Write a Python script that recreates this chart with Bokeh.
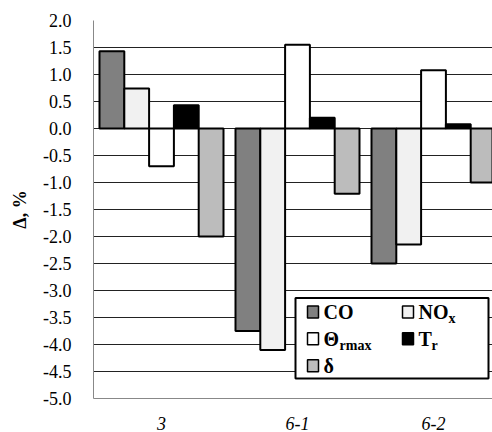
from bokeh.plotting import figure
from bokeh.models import Range1d, FixedTicker, Label
from bokeh.embed import file_html
from bokeh.resources import INLINE

# Relative change of each parameter, %, per variant
categories = ["3", "6-1", "6-2"]
co = [1.43, -3.75, -2.50]
nox = [0.74, -4.10, -2.15]
theta_rmax = [-0.70, 1.55, 1.08]
t_r = [0.43, 0.20, 0.08]
delta = [-2.00, -1.21, -1.00]

series = [co, nox, theta_rmax, t_r, delta]
colors = ["#808080", "#f1f1f1", "#ffffff", "#000000", "#bcbcbc"]

W, H = 492, 432
LEFT, TOP, BOTTOM = 93, 20, 32
FRAME_W = W - LEFT
FRAME_H = H - TOP - BOTTOM
CAT_PX = 136.0
X_MAX = FRAME_W / CAT_PX
Y_MIN, Y_MAX = -5.0, 2.0
SERIF = "Liberation Serif"

p = figure(width=W, height=H, output_backend="svg", toolbar_location=None,
           x_range=Range1d(0, X_MAX), y_range=Range1d(Y_MIN, Y_MAX),
           min_border_left=LEFT, min_border_right=0, min_border_top=TOP,
           min_border_bottom=BOTTOM)
p.outline_line_color = None
p.background_fill_color = "white"

bar_w = 24.8 / CAT_PX
centers = [i + 0.5 for i in range(len(categories))]
for k, (vals, col) in enumerate(zip(series, colors)):
    xs = [c + (k - 2) * bar_w for c in centers]
    p.vbar(x=xs, top=vals, bottom=0, width=bar_w, fill_color=col,
           line_color="black", line_width=2)

# axes
p.xgrid.grid_line_color = None
p.ygrid.grid_line_color = "#222222"
p.ygrid.grid_line_width = 1
p.yaxis.ticker = FixedTicker(ticks=[Y_MIN + 0.5 * i for i in range(15)])
p.yaxis.formatter.use_scientific = False
p.yaxis.major_label_overrides = {Y_MIN + 0.5 * i: f"{Y_MIN + 0.5 * i:.1f}" for i in range(15)}
p.xaxis.ticker = FixedTicker(ticks=centers)
p.xaxis.major_label_overrides = {c: lab for c, lab in zip(centers, categories)}
for ax in (p.xaxis, p.yaxis):
    ax.axis_line_color = "#888888"
    ax.axis_line_width = 1
    ax.major_tick_line_color = None
    ax.minor_tick_line_color = None
    ax.major_label_text_font = SERIF
    ax.major_label_text_font_size = "18px"
    ax.major_label_text_color = "black"
p.xaxis.major_label_text_font_style = "italic"
p.xaxis.major_label_standoff = 12
p.yaxis.major_label_standoff = 16
p.yaxis.axis_label = "Δ, %"
p.yaxis.axis_label_text_font = SERIF
p.yaxis.axis_label_text_font_size = "18px"
p.yaxis.axis_label_text_font_style = "bold"
p.yaxis.axis_label_text_color = "black"
p.yaxis.axis_label_standoff = 10


def dx(px):
    return (px - LEFT) / CAT_PX


def dy(py):
    return Y_MAX - (py - TOP) * (Y_MAX - Y_MIN) / FRAME_H


# legend box
p.quad(left=[dx(295)], right=[dx(488)], top=[dy(299)], bottom=[dy(380)],
       fill_color="white", line_color="black", line_width=2)

rows = [313, 340, 367]
entries = [
    (0, 0, colors[0], "CO", None),
    (1, 0, colors[1], "NO", "x"),
    (0, 1, colors[2], "Θ", "rmax"),
    (1, 1, colors[3], "T", "r"),
    (0, 2, colors[4], "δ", None),
]
main_w = {"CO": 28, "NO": 29, "Θ": 15, "T": 12, "δ": 10}
col_sw = [307, 402]
for c, r, col, txt, sub in entries:
    cy = rows[r]
    sx0 = col_sw[c]
    p.quad(left=[dx(sx0)], right=[dx(sx0 + 11)], top=[dy(cy - 6)],
           bottom=[dy(cy + 6)], fill_color=col, line_color="black", line_width=1.5)
    tx = sx0 + 16
    p.add_layout(Label(x=dx(tx), y=dy(cy), text=txt, text_font=SERIF,
                       text_font_size="20px", text_font_style="bold",
                       text_baseline="middle", text_align="left", text_color="black"))
    if sub:
        p.add_layout(Label(x=dx(tx + main_w[txt] + 1), y=dy(cy + 7), text=sub,
                           text_font=SERIF, text_font_size="14px",
                           text_font_style="bold", text_baseline="middle",
                           text_align="left", text_color="black"))

open("out.html", "w").write(file_html(p, INLINE))
